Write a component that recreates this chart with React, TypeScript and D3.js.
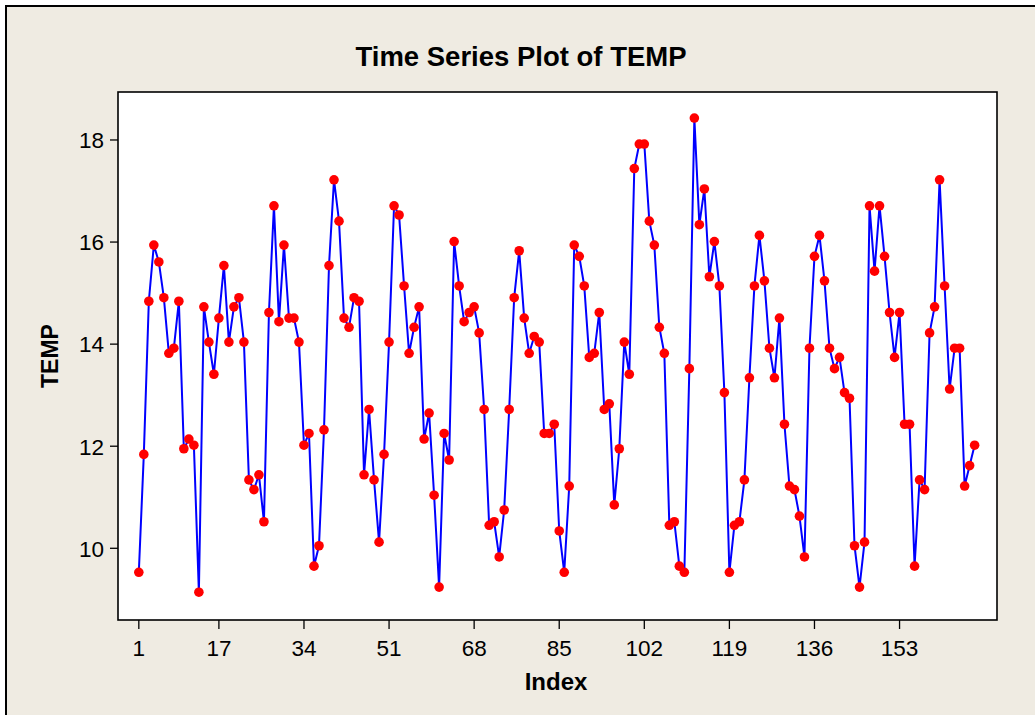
import React from "react";
import * as d3 from "d3";

const temp: number[] = [
  9.53, 11.84, 14.84, 15.94, 15.61, 14.91, 13.82, 13.92, 14.84, 11.95,
  12.14, 12.02, 9.14, 14.73, 14.04, 13.41, 14.51, 15.54, 14.04, 14.73,
  14.91, 14.04, 11.34, 11.15, 11.44, 10.52, 14.62, 16.71, 14.44, 15.94,
  14.51, 14.51, 14.04, 12.02, 12.25, 9.65, 10.05, 12.32, 15.54, 17.22,
  16.41, 14.51, 14.33, 14.91, 14.84, 11.44, 12.72, 11.34, 10.12, 11.84,
  14.04, 16.71, 16.53, 15.14, 13.82, 14.33, 14.73, 12.14, 12.65, 11.04,
  9.24, 12.25, 11.73, 16.01, 15.14, 14.44, 14.62, 14.73, 14.22, 12.72,
  10.45, 10.52, 9.83, 10.75, 12.72, 14.91, 15.83, 14.51, 13.82, 14.15,
  14.04, 12.25, 12.25, 12.43, 10.34, 9.53, 11.22, 15.94, 15.72, 15.14,
  13.74, 13.82, 14.62, 12.72, 12.83, 10.85, 11.95, 14.04, 13.41, 17.44,
  17.92, 17.92, 16.41, 15.94, 14.33, 13.82, 10.45, 10.52, 9.65, 9.53,
  13.52, 18.43, 16.34, 17.04, 15.32, 16.01, 15.14, 13.05, 9.53, 10.45,
  10.52, 11.34, 13.34, 15.14, 16.13, 15.24, 13.92, 13.34, 14.51, 12.43,
  11.22, 11.15, 10.63, 9.83, 13.92, 15.72, 16.13, 15.24, 13.92, 13.52,
  13.74, 13.05, 12.94, 10.05, 9.24, 10.12, 16.71, 15.43, 16.71, 15.72,
  14.62, 13.74, 14.62, 12.43, 12.43, 9.65, 11.34, 11.15, 14.22, 14.73,
  17.22, 15.14, 13.12, 13.92, 13.92, 11.22, 11.62, 12.02,
];

const xTicks: number[] = [1, 17, 34, 51, 68, 85, 102, 119, 136, 153];
const yTicks: number[] = [10, 12, 14, 16, 18];

const W = 1035;
const H = 715;
const plot = { left: 118, right: 997, top: 92, bottom: 620 };

export default function App() {
  const data = temp.map((v, i) => ({ idx: i + 1, v }));
  const x = d3.scaleLinear().domain([-3.16, 172.47]).range([plot.left, plot.right]);
  const y = d3.scaleLinear().domain([8.595, 18.94]).range([plot.bottom, plot.top]);
  const line = d3
    .line<{ idx: number; v: number }>()
    .x((d) => x(d.idx))
    .y((d) => y(d.v));

  const font = "'Liberation Sans', Arial, sans-serif";

  return (
    <svg
      width={W}
      height={H}
      style={{ position: "absolute", left: 0, top: 0, background: "#ffffff" }}
    >
      <rect x={6} y={6} width={W + 10} height={H + 10} fill="#efebe2" stroke="#000" strokeWidth={2} />
      <rect
        x={plot.left}
        y={plot.top}
        width={plot.right - plot.left}
        height={plot.bottom - plot.top}
        fill="#ffffff"
        stroke="#000"
        strokeWidth={1.6}
      />
      <text
        x={521}
        y={66}
        textAnchor="middle"
        fontFamily={font}
        fontWeight="bold"
        fontSize={27.5}
        fill="#000"
      >
        Time Series Plot of TEMP
      </text>
      {yTicks.map((t) => (
        <g key={"y" + t}>
          <line x1={110} x2={plot.left} y1={y(t)} y2={y(t)} stroke="#000" strokeWidth={1.3} />
          <text
            x={104}
            y={y(t)}
            dy="0.37em"
            textAnchor="end"
            fontFamily={font}
            fontSize={22.5}
            fill="#000"
          >
            {t}
          </text>
        </g>
      ))}
      {xTicks.map((t) => (
        <g key={"x" + t}>
          <line x1={x(t)} x2={x(t)} y1={plot.bottom} y2={plot.bottom + 9} stroke="#000" strokeWidth={1.3} />
          <text
            x={x(t)}
            y={656}
            textAnchor="middle"
            fontFamily={font}
            fontSize={22.5}
            fill="#000"
          >
            {t}
          </text>
        </g>
      ))}
      <text
        x={556}
        y={690}
        textAnchor="middle"
        fontFamily={font}
        fontWeight="bold"
        fontSize={24}
        fill="#000"
      >
        Index
      </text>
      <text
        transform={`translate(58,356) rotate(-90)`}
        textAnchor="middle"
        fontFamily={font}
        fontWeight="bold"
        fontSize={23}
        fill="#000"
      >
        TEMP
      </text>
      <path d={line(data) ?? ""} fill="none" stroke="#0000ff" strokeWidth={2} />
      {data.map((d) => (
        <circle key={d.idx} cx={x(d.idx)} cy={y(d.v)} r={4.8} fill="#ff0000" />
      ))}
    </svg>
  );
}
